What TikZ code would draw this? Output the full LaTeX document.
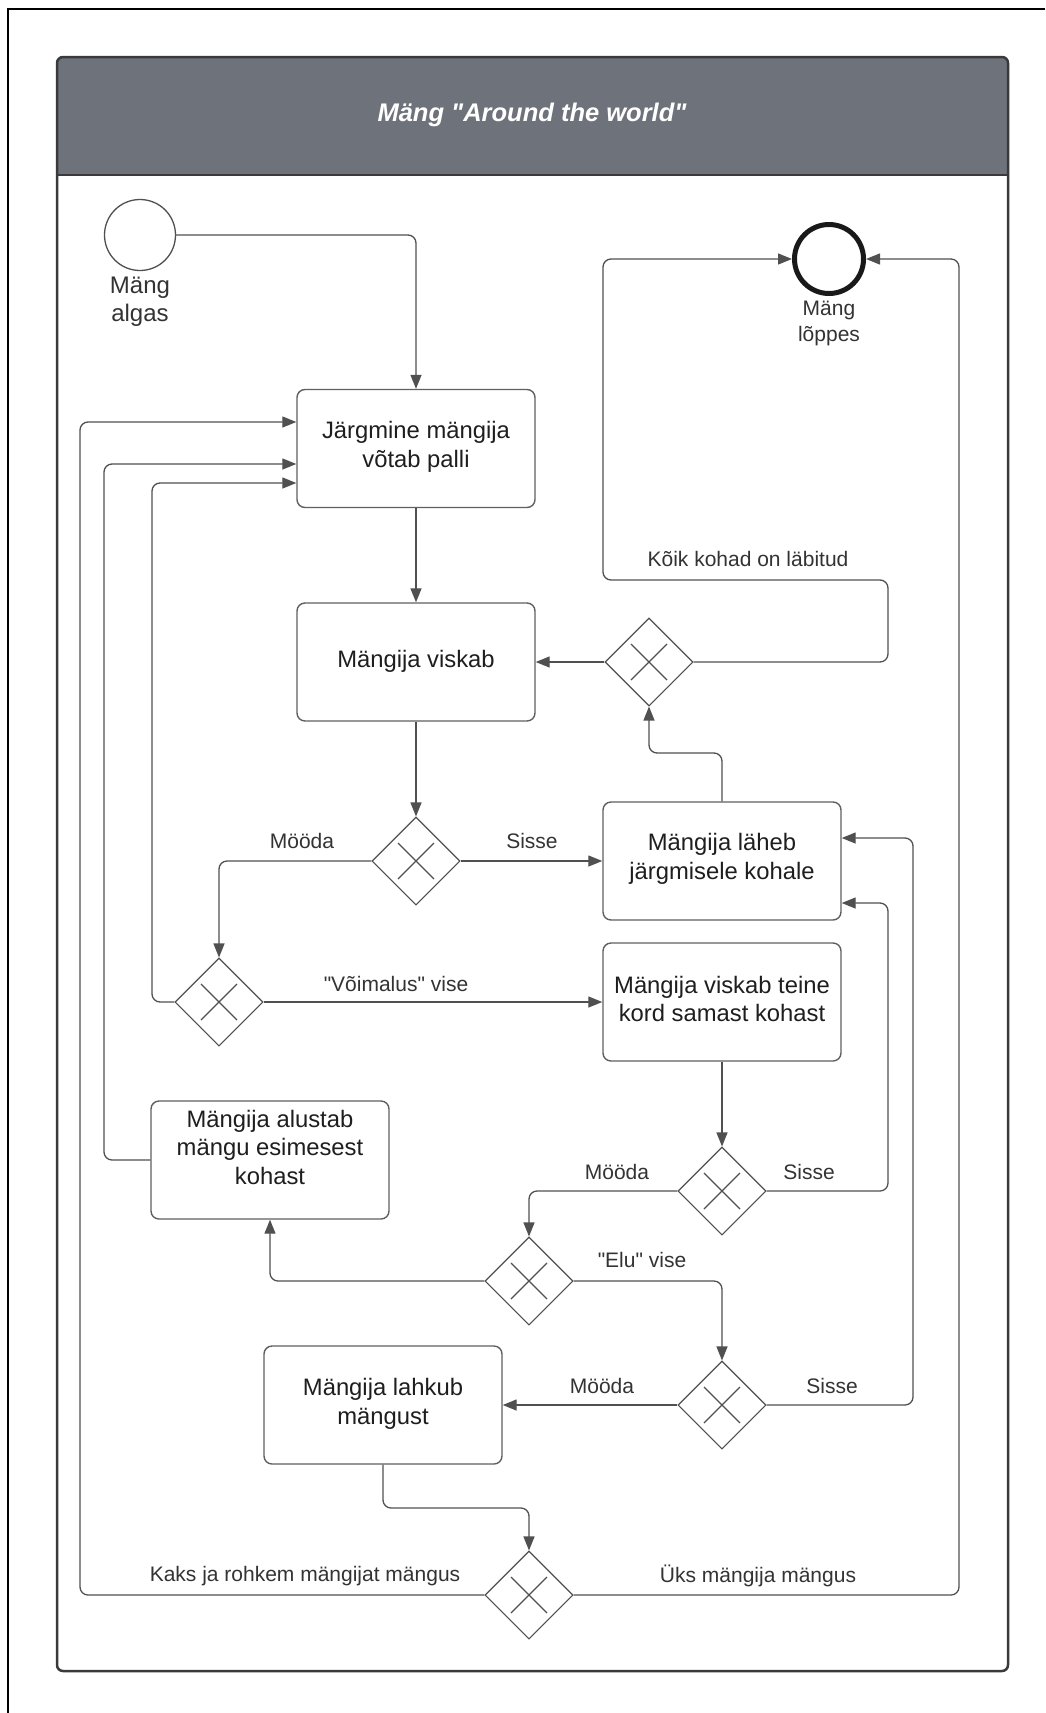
\documentclass[tikz,border=0pt]{standalone}
\usepackage{fontspec}
\setmainfont{Liberation Sans}[Ligatures=TeXOff]
\usetikzlibrary{arrows.meta,shapes.geometric,calc}
\definecolor{hdr}{HTML}{6E727B}
\definecolor{ln}{HTML}{505050}
\definecolor{bx}{HTML}{606060}
\definecolor{txt}{HTML}{1E1E1E}
\definecolor{lbl}{HTML}{333333}
\definecolor{pooll}{HTML}{3A3A3A}
\begin{document}
\begin{tikzpicture}[x=1pt,y=-1pt,
  flow/.style={draw=ln, line width=1.3pt, rounded corners=8pt, -{Triangle[length=14pt,width=11pt]}},
  task/.style={draw=bx, line width=1.4pt, rounded corners=8pt, minimum width=238pt, minimum height=118pt, inner sep=0pt},
  gw/.style={diamond, draw=ln, line width=1.1pt, minimum width=88pt, minimum height=88pt, inner sep=0pt,
    path picture={\draw[ln, line width=1.1pt]
      ($(path picture bounding box.center)+(-18pt,-18pt)$) -- ++(36pt,36pt)
      ($(path picture bounding box.center)+(-18pt,18pt)$) -- ++(36pt,-36pt);}},
  boxtext/.style={text=txt, font=\fontsize{23.8}{28.5}\selectfont, align=center, inner sep=0pt},
  lab/.style={text=lbl, font=\fontsize{21}{25}\selectfont, inner sep=0pt},
]
\useasboundingbox (0,0) rectangle (1045,1713);
\fill[white] (0,0) rectangle (1045,1713);
% outer frame (top and left visible)
\draw[black, line width=1.5pt] (8,1713) -- (8,9) -- (1045,9);
% pool
\fill[hdr, rounded corners=6pt] (57,57) rectangle (1008,175);
\fill[hdr] (57,150) rectangle (1008,175);
\draw[pooll, line width=2.5pt, rounded corners=6pt] (57,57) rectangle (1008,1671);
\draw[pooll, line width=2.5pt] (57,175) -- (1008,175);
\node[text=white, font=\fontsize{25.5}{30}\selectfont\bfseries\itshape, inner sep=0pt] (title) at (532,115) {Mäng "Around the world"};

% events
\node[circle, draw=ln, line width=1.3pt, minimum size=71pt, inner sep=0pt] (start) at (140,235) {};
\node[text=lbl, font=\fontsize{24}{28}\selectfont, align=center, inner sep=0pt] (startlab) at (140,302) {Mäng\\algas};
\node[circle, draw=black!90, line width=5pt, minimum size=69pt, inner sep=0pt] (end) at (829,259) {};
\node[lab, align=center, font=\fontsize{21}{26}\selectfont] (endlab) at (829,323) {Mäng\\lõppes};

% tasks
\node[task] (b1) at (416,448.5) {};
\node[boxtext] (t1) at (416,447) {Järgmine mängija\\võtab palli};
\node[task] (b2) at (416,662) {};
\node[boxtext] (t2) at (416,661) {Mängija viskab};
\node[task] (b3) at (722,861) {};
\node[boxtext] (t3) at (722,859) {Mängija läheb\\järgmisele kohale};
\node[task] (b4) at (722,1002) {};
\node[boxtext] (t4) at (722,999) {Mängija viskab teine\\kord samast kohast};
\node[task] (b5) at (270,1160) {};
\node[boxtext] (t5) at (270,1147) {Mängija alustab\\mängu esimesest\\kohast};
\node[task] (b6) at (383,1405) {};
\node[boxtext] (t6) at (383,1404) {Mängija lahkub\\mängust};

% gateways
\node[gw] (dA) at (649,662) {};
\node[gw] (dB) at (416,861) {};
\node[gw] (dC) at (219,1002) {};
\node[gw] (dD) at (722,1191) {};
\node[gw] (dE) at (529,1281) {};
\node[gw] (dF) at (722,1405) {};
\node[gw] (dG) at (529,1595) {};

% bend points
\coordinate (c7) at (152,483);
\coordinate (c8) at (722,753);
\coordinate (c10a) at (888,580);
\coordinate (c10b) at (603,580);
\coordinate (c12) at (888,903);
\coordinate (c17) at (913,838);
\coordinate (c18) at (383,1508);
\coordinate (c19) at (80,422);
\coordinate (c20) at (959,259);
\coordinate (c21) at (104,464);

% connectors
\draw[flow] (start.east) -| (b1.north);
\draw[flow] (b1.south) -- (b2.north);
\draw[flow] (b2.south) -- (dB.north);
\draw[flow] (dB.east) -- (b3.west);
\draw[flow] (dB.west) -| (dC.north);
\draw[flow] (dC.east) -- (b4.west);
\draw[flow] (dC.west) -| (c7) -- (c7 -| b1.west);
\draw[flow] (b3.north) -- (c8) -| (dA.south);
\draw[flow] (dA.west) -- (b2.east);
\draw[flow] (dA.east) -| (c10a) -- (c10b) |- (end.west);
\draw[flow] (b4.south) -- (dD.north);
\draw[flow] (dD.east) -| (c12) -- (c12 -| b3.east);
\draw[flow] (dD.west) -| (dE.north);
\draw[flow] (dE.west) -| (b5.south);
\draw[flow] (dE.east) -| (dF.north);
\draw[flow] (dF.west) -- (b6.east);
\draw[flow] (dF.east) -| (c17) -- (c17 -| b3.east);
\draw[flow] (b6.south) -- (c18) -| (dG.north);
\draw[flow] (dG.west) -| (c19) -- (c19 -| b1.west);
\draw[flow] (dG.east) -| (c20) -- (end.east);
\draw[flow] (b5.west) -| (c21) -- (c21 -| b1.west);

% labels
\node[lab] (l1) at (532,841) {Sisse};
\node[lab] (l2) at (302,841) {Mööda};
\node[lab] (l3) at (396,984) {"Võimalus" vise};
\node[lab] (l4) at (748,559) {Kõik kohad on läbitud};
\node[lab] (l5) at (809,1172) {Sisse};
\node[lab] (l6) at (617,1172) {Mööda};
\node[lab] (l7) at (642,1260) {"Elu" vise};
\node[lab] (l8) at (602,1386) {Mööda};
\node[lab] (l9) at (832,1386) {Sisse};
\node[lab] (l10) at (305,1576) {Kaks ja rohkem mängijat mängus};
\node[lab] (l11) at (758,1576) {Üks mängija mängus};
\end{tikzpicture}
\end{document}
